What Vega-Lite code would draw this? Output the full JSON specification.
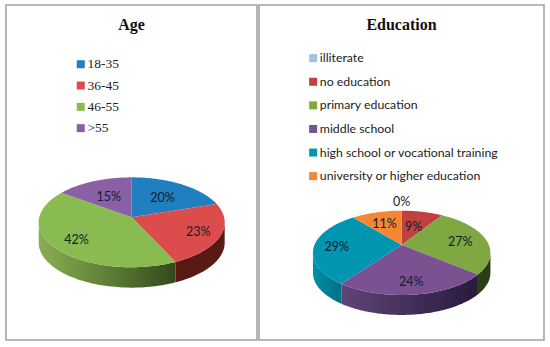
{
"$schema":"https://vega.github.io/schema/vega-lite/v6.json",
"padding":{"left":5,"top":4,"right":0,"bottom":0},
"background":"white",
"spacing":0,
"config":{"view":{"stroke":"#a3a3a3","strokeWidth":1.6},"concat":{"spacing":0}},
"datasets":{
"age":[
{"idx":1,"category":"18-35","share":20,"label":"20%"},
{"idx":2,"category":"36-45","share":23,"label":"23%"},
{"idx":3,"category":"46-55","share":42,"label":"42%"},
{"idx":4,"category":">55","share":15,"label":"15%"}],
"education":[
{"idx":1,"category":"illiterate","share":0,"label":"0%"},
{"idx":2,"category":"no education","share":9,"label":"9%"},
{"idx":3,"category":"primary education","share":27,"label":"27%"},
{"idx":4,"category":"middle school","share":24,"label":"24%"},
{"idx":5,"category":"high school or vocational training","share":29,"label":"29%"},
{"idx":6,"category":"university or higher education","share":11,"label":"11%"}]
},
"hconcat":[
{
"width":251,"height":335,
"title":{"text":"Age","font":"Liberation Serif","fontSize":16,"fontWeight":"bold","color":"#111111","anchor":"middle","offset":-28},
"data":{"name":"age"},
"transform":[
{"window":[{"op":"sum","field":"share","as":"end"}],"sort":[{"field":"idx"}]},
{"calculate":"datum.end-datum.share","as":"start"},
{"calculate":"sequence(-0.01,1.005,0.01)","as":"t"},
{"flatten":["t"]},
{"calculate":"datum.t<0?0:1","as":"r"},
{"calculate":"2*PI*(datum.start+max(datum.t,0)*datum.share)/100","as":"theta"},
{"calculate":"datum.r*sin(datum.theta)","as":"X"},
{"calculate":"-datum.r*cos(datum.theta)","as":"F"},
{"calculate":"datum.X/(1-0.111*datum.F)","as":"px"},
{"calculate":"datum.F/(1-0.111*datum.F)","as":"py"},
{"calculate":"datum.py+0.46","as":"pyb"}
],
"encoding":{
"x":{"field":"px","type":"quantitative","axis":null,"scale":{"domain":[-1.36,1.356],"nice":false,"zero":false}},
"y":{"field":"py","type":"quantitative","axis":null,"scale":{"domain":[-4.782,2.764],"reverse":true,"nice":false,"zero":false}}
},
"layer":[
{"transform":[{"filter":"datum.category=='46-55' && datum.r==1 && datum.F>=0.111"}],
 "mark":{"type":"area","color":{"gradient":"linear","x1":0,"x2":1,"y1":0,"y2":0,"stops":[{"offset":0,"color":"#8aae52"},{"offset":0.5,"color":"#5f7f38"},{"offset":1,"color":"#33491c"}]}},
 "encoding":{"y2":{"field":"pyb"}}},
{"transform":[{"filter":"datum.category=='36-45' && datum.r==1 && datum.F>=0.111"}],
 "mark":{"type":"area","color":"#591a16"},
 "encoding":{"y2":{"field":"pyb"}}},
{"mark":{"type":"line","strokeWidth":0,"interpolate":"linear"},
 "encoding":{
  "order":{"field":"t","type":"quantitative"},
  "fill":{"field":"category","type":"nominal","scale":{"domain":["18-35","36-45","46-55",">55"],"range":["#1f7fbf","#dd4c4c","#8abb50","#8a5fa6"]},
   "legend":{"title":null,"orient":"none","legendX":68,"legendY":52.5,"symbolType":"square","symbolSize":64,"symbolStrokeWidth":0,"labelFont":"Liberation Serif","labelFontSize":13.5,"labelColor":"#222222","labelOffset":0,"rowPadding":6.3,"labelLimit":300,"values":["18-35","36-45","46-55",">55"]}}
 }},
{"transform":[
  {"filter":"datum.t<0"},
  {"calculate":"{'18-35':0.62,'36-45':0.75,'46-55':0.72,'>55':0.6}[datum.category]","as":"lf"},
  {"calculate":"2*PI*(datum.start+datum.share/2)/100","as":"mid"},
  {"calculate":"-cos(datum.mid)","as":"mF"},
  {"calculate":"datum.lf*sin(datum.mid)/(1-0.111*datum.mF)","as":"lx"},
  {"calculate":"datum.lf*datum.mF/(1-0.111*datum.mF)","as":"ly"}
 ],
 "mark":{"type":"text","font":"Lato","fontSize":12.5,"color":"#10202a","dy":1},
 "encoding":{"x":{"field":"lx","type":"quantitative"},"y":{"field":"ly","type":"quantitative"},"text":{"field":"label","type":"nominal"}}}
]
},
{
"width":285,"height":335,
"title":{"text":"Education","font":"Liberation Serif","fontSize":16,"fontWeight":"bold","color":"#111111","anchor":"middle","offset":-28},
"data":{"name":"education"},
"transform":[
{"window":[{"op":"sum","field":"share","as":"end"}],"sort":[{"field":"idx"}]},
{"calculate":"datum.end-datum.share","as":"start"},
{"calculate":"sequence(-0.01,1.005,0.01)","as":"t"},
{"flatten":["t"]},
{"calculate":"datum.t<0?0:1","as":"r"},
{"calculate":"2*PI*(datum.start+max(datum.t,0)*datum.share)/100","as":"theta"},
{"calculate":"datum.r*sin(datum.theta)","as":"X"},
{"calculate":"-datum.r*cos(datum.theta)","as":"F"},
{"calculate":"datum.X/(1-0.186*datum.F)","as":"px"},
{"calculate":"datum.F/(1-0.186*datum.F)","as":"py"},
{"calculate":"datum.py+0.49","as":"pyb"}
],
"encoding":{
"x":{"field":"px","type":"quantitative","axis":null,"scale":{"domain":[-1.636,1.632],"nice":false,"zero":false}},
"y":{"field":"py","type":"quantitative","axis":null,"scale":{"domain":[-5.897,2.334],"reverse":true,"nice":false,"zero":false}}
},
"layer":[
{"transform":[{"filter":"datum.category=='primary education' && datum.r==1 && datum.F>=0.186"}],
 "mark":{"type":"area","color":"#2b3d14"},
 "encoding":{"y2":{"field":"pyb"}}},
{"transform":[{"filter":"datum.category=='middle school' && datum.r==1 && datum.F>=0.186"}],
 "mark":{"type":"area","color":{"gradient":"linear","x1":0,"x2":1,"y1":0,"y2":0,"stops":[{"offset":0,"color":"#5f4478"},{"offset":1,"color":"#281a3c"}]}},
 "encoding":{"y2":{"field":"pyb"}}},
{"transform":[{"filter":"datum.category=='high school or vocational training' && datum.r==1 && datum.F>=0.186"}],
 "mark":{"type":"area","color":{"gradient":"linear","x1":0,"x2":1,"y1":0,"y2":0,"stops":[{"offset":0,"color":"#0090a8"},{"offset":1,"color":"#006e84"}]}},
 "encoding":{"y2":{"field":"pyb"}}},
{"mark":{"type":"line","strokeWidth":0,"interpolate":"linear"},
 "encoding":{
  "order":{"field":"t","type":"quantitative"},
  "fill":{"field":"category","type":"nominal","scale":{"domain":["illiterate","no education","primary education","middle school","high school or vocational training","university or higher education"],"range":["#9dc3e6","#c0413f","#7fa843","#7a5291","#0095b0","#f58634"]},
   "legend":{"title":null,"orient":"none","legendX":48,"legendY":47,"symbolType":"square","symbolSize":64,"symbolStrokeWidth":0,"labelFont":"Lato","labelFontSize":12.3,"labelColor":"#222222","labelOffset":0.5,"rowPadding":10.6,"labelLimit":300,"values":["illiterate","no education","primary education","middle school","high school or vocational training","university or higher education"]}}
 }},
{"transform":[
  {"filter":"datum.t<0"},
  {"calculate":"{'illiterate':1.28,'no education':0.58,'primary education':0.7,'middle school':0.72,'high school or vocational training':0.74,'university or higher education':0.68}[datum.category]","as":"lf"},
  {"calculate":"2*PI*(datum.start+datum.share/2)/100","as":"mid"},
  {"calculate":"-cos(datum.mid)","as":"mF"},
  {"calculate":"datum.lf*sin(datum.mid)/(1-0.186*datum.mF)","as":"lx"},
  {"calculate":"datum.lf*datum.mF/(1-0.186*datum.mF)","as":"ly"}
 ],
 "mark":{"type":"text","font":"Lato","fontSize":12.5,"color":"#10202a","dy":1},
 "encoding":{"x":{"field":"lx","type":"quantitative"},"y":{"field":"ly","type":"quantitative"},"text":{"field":"label","type":"nominal"}}}
]
}
],
"resolve":{"scale":{"fill":"independent","x":"independent","y":"independent"}}
}
